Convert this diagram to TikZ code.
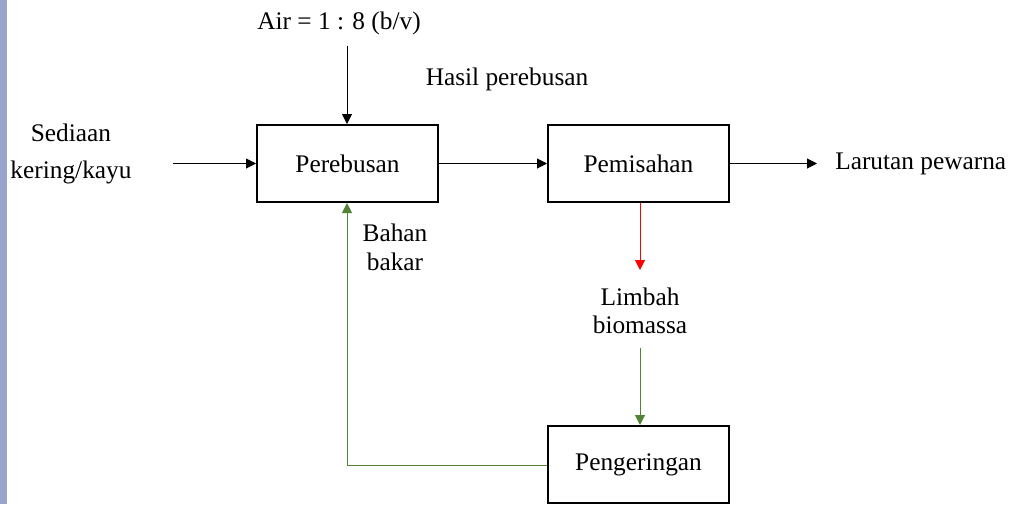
\documentclass[tikz,border=0pt]{standalone}
\usepackage{fontspec}
\setmainfont{Liberation Serif}[Ligatures=TeX]
\newfontfamily\tnr{Liberation Serif}
\usetikzlibrary{arrows.meta}
\definecolor{officegreen}{RGB}{84,130,53}
\definecolor{barblue}{RGB}{154,162,206}
\begin{document}
\begin{tikzpicture}[x=0.75pt,y=-0.75pt,
  every node/.style={font=\tnr\fontsize{19}{21}\selectfont, inner sep=0pt},
  procbox/.style={draw, line width=1.5pt, minimum width=181*0.75pt, minimum height=77*0.75pt},
  lbl/.style={align=center},
  conn/.style={line width=0.75pt, -{Triangle[length=7.5pt,width=7.5pt]}}]
\useasboundingbox (0,0) rectangle (1009,504);
\fill[barblue] (0,0) rectangle (7,504);
% boxes
\node[procbox] (pere) at (347.5,163.5) {Perebusan};
\node[procbox] (pemi) at (638.5,163.5) {Pemisahan};
\node[procbox] (peng) at (638.5,464.5) {Pengeringan};
% labels
\node[lbl, font=\tnr\fontsize{19}{27.5}\selectfont] (sed) at (71,154) {Sediaan\\kering/kayu};
\node[lbl] (air) at (339,23) {Air = 1 : 8 (b/v)};
\node[lbl] (hasil) at (507,79) {Hasil perebusan};
\node[lbl, anchor=west] (lar) at (835,163.5) {Larutan pewarna};
\node[lbl, font=\tnr\fontsize{19}{21}\selectfont] (limbah) at (640,311) {Limbah\\biomassa};
\node[lbl, font=\tnr\fontsize{19}{21.75}\selectfont] (bahan) at (395,247.5) {Bahan\\bakar};
% coordinates
\coordinate (sedEnd) at (173,163.5);
\coordinate (airTop) at (347,46);
\coordinate (larEnd) at (817,163.5);
\coordinate (redEnd) at (640,270);
\coordinate (grTop) at (640,348);
\coordinate (corner) at (347,465);
% connectors
\draw[conn] (sedEnd) -- (pere.west);
\draw[conn] (airTop) -- (airTop |- pere.north);
\draw[conn] (pere.east) -- (pemi.west);
\draw[conn] (pemi.east) -- (larEnd);
\draw[conn, red] (pemi.south -| redEnd) -- (redEnd);
\draw[conn, officegreen] (grTop) -- (grTop |- peng.north);
\draw[conn, officegreen] (peng.west |- corner) -- (corner) -- (corner |- pere.south);
\end{tikzpicture}
\end{document}
